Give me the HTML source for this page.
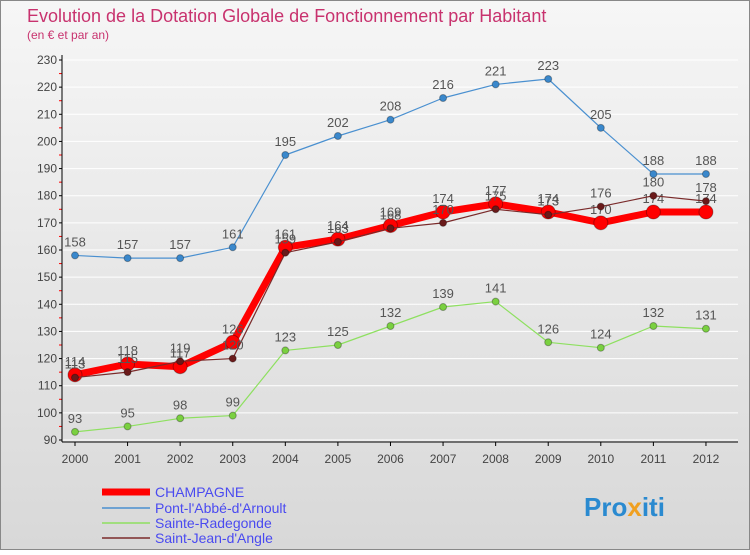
<!DOCTYPE html>
<html><head><meta charset="utf-8"><style>
body{margin:0;background:#fff;font-family:"Liberation Sans",sans-serif}
#c{position:relative;width:750px;height:550px}
svg text{font-family:"Liberation Sans",sans-serif}
</style></head><body>
<div id="c">
<svg id="s" width="750" height="550" xmlns="http://www.w3.org/2000/svg">
<defs><linearGradient id="bg" x1="0" y1="0" x2="0" y2="1"><stop offset="0" stop-color="#f6f6f6"/><stop offset="1" stop-color="#d8d8d8"/></linearGradient></defs>
<rect x="0.5" y="0.5" width="749" height="549" fill="url(#bg)" stroke="#888"/>
<text x="27" y="22" font-size="18" fill="#c8326e">Evolution de la Dotation Globale de Fonctionnement par Habitant</text>
<text x="27" y="39" font-size="12" fill="#c8326e">(en € et par an)</text>
<g id="axes"></g><g id="series"></g>
<g>
<line x1="102" y1="492" x2="150" y2="492" stroke="#f00" stroke-width="7"/><text x="155" y="497" font-size="14" fill="#4a4af0">CHAMPAGNE</text>
<line x1="102" y1="508" x2="150" y2="508" stroke="#4a90d0" stroke-width="1.5"/><text x="155" y="513" font-size="14" fill="#4a4af0">Pont-l'Abbé-d'Arnoult</text>
<line x1="102" y1="523" x2="150" y2="523" stroke="#8ee060" stroke-width="1.5"/><text x="155" y="528" font-size="14" fill="#4a4af0">Sainte-Radegonde</text>
<line x1="102" y1="538" x2="150" y2="538" stroke="#7a2a2a" stroke-width="1.5"/><text x="155" y="543" font-size="14" fill="#4a4af0">Saint-Jean-d'Angle</text>
</g>
<text x="584" y="516" font-size="26" font-weight="bold" fill="#2a8ad0">Pro<tspan fill="#f0a020">x</tspan>iti</text>
</svg></div>
<script>
const years=[2000,2001,2002,2003,2004,2005,2006,2007,2008,2009,2010,2011,2012];
const yTicks=[90,100,110,120,130,140,150,160,170,180,190,200,210,220,230];
const champagne=[114,118,117,126,161,164,169,174,177,174,170,174,174];
const pont=[158,157,157,161,195,202,208,216,221,223,205,188,188];
const radegonde=[93,95,98,99,123,125,132,139,141,126,124,132,131];
const jean=[113,115,119,120,159,163,168,170,175,173,176,180,178];
const NS="http://www.w3.org/2000/svg";
const X=i=>75+i*52.58, Y=v=>60+(230-v)*380/140;
function el(t,a,p){const e=document.createElementNS(NS,t);for(const k in a)e.setAttribute(k,a[k]);p.appendChild(e);return e;}
const ax=document.getElementById('axes');
yTicks.forEach(v=>{
 const g=el('line',{x1:62,x2:738,y1:Y(v),y2:Y(v),stroke:'#fff','stroke-width':1},ax);
 
 
 el('line',{x1:59,x2:62,y1:Y(v),y2:Y(v),stroke:'#000'},ax);
 if(v<230) el('line',{x1:59,x2:62,y1:Y(v)-13.57,y2:Y(v)-13.57,stroke:'#f00'},ax);
 const t=el('text',{x:57,y:Y(v)+4,'font-size':12,'text-anchor':'end',fill:'#444'},ax);t.textContent=v;
 
 
});
el('line',{x1:62,x2:62,y1:55,y2:442,stroke:'#000'},ax);
el('line',{x1:62,x2:738,y1:442,y2:442,stroke:'#000'},ax);
years.forEach((y,i)=>{
 el('line',{x1:X(i),x2:X(i),y1:442,y2:446,stroke:'#000'},ax);
 const t=el('text',{x:X(i),y:463,'font-size':12,'text-anchor':'middle',fill:'#444'},ax);t.textContent=y;
 
 
});
const sg=document.getElementById('series');
function draw(name,vals,color,w,r,dot){
 const g=el('g',{},sg);
 
 
 el('polyline',{points:vals.map((v,i)=>X(i)+','+Y(v)).join(' '),fill:'none',stroke:color,'stroke-width':w,'stroke-linejoin':'round'},g);
 vals.forEach((v,i)=>{
  const c=el('circle',{cx:X(i),cy:Y(v),r:r,fill:dot,stroke:'rgba(0,0,0,0.3)'},g);
  
  
  const t=el('text',{x:X(i),y:Y(v)-9,'font-size':13,'text-anchor':'middle',fill:'#555'},g);t.textContent=v;
 });
}
draw('series-pont',pont,'#4a90d0',1.2,3.5,'#3a88cc');
draw('series-radegonde',radegonde,'#8ee060',1.2,3.5,'#7ad040');
draw('series-champagne',champagne,'#f00',7,7,'#f00');
draw('series-jean',jean,'#7a2a2a',1.2,3.5,'#6a1a1a');
</script>
</body></html>
